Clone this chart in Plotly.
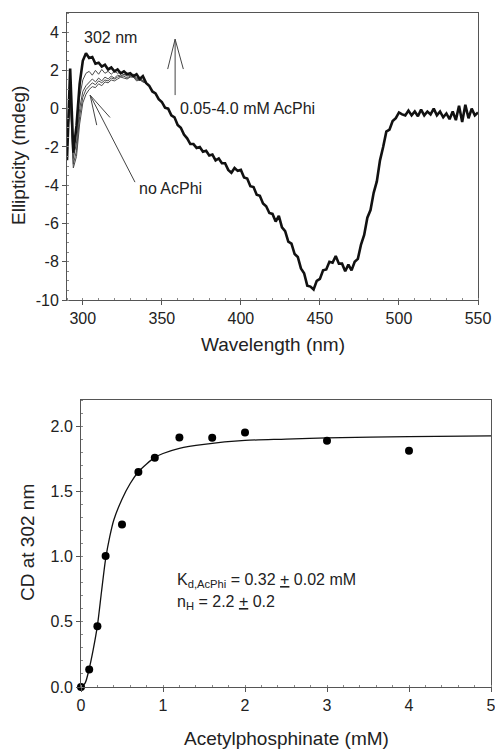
import plotly.graph_objects as go

# ---------------- data: CD spectra (top panel) ----------------
wavelength = list(range(290, 552, 2))
cd_high = [
    -2.7, 2.1, -2.3, -0.9, 1.3, 2.5, 2.9, 2.65, 2.7, 2.35,          # 290-308
    2.4, 2.2, 2.3, 2.05, 2.15, 1.95, 2.05, 1.85, 1.95, 1.8,         # 310-328
    1.85, 1.7, 1.8, 1.55, 1.7, 1.35, 1.2, 0.9, 0.8, 0.5,            # 330-348
    0.35, 0.05, 0.0, -0.35, -0.45, -0.85, -1.0, -1.35, -1.55, -1.85,  # 350-368
    -1.85, -2.05, -2.0, -2.25, -2.2, -2.45, -2.4, -2.7, -2.6, -2.85,  # 370-388
    -2.85, -3.2, -3.35, -3.1, -3.25, -3.2, -3.6, -3.65, -4.05, -4.1,  # 390-408
    -4.5, -4.55, -4.95, -5.1, -5.45, -5.5, -5.9, -5.6, -6.2, -6.4,    # 410-428
    -6.95, -7.05, -7.6, -7.75, -8.35, -8.6, -9.25, -9.3, -9.45, -9.0,  # 430-448
    -8.9, -8.45, -8.4, -8.0, -8.05, -7.7, -8.1, -8.1, -8.5, -8.15,    # 450-468
    -8.45, -8.0, -7.85, -7.1, -6.6, -5.7, -5.3, -4.4, -3.8, -2.7,     # 470-488
    -2.0, -1.2, -1.1, -0.65, -0.5, -0.2, -0.3, -0.35, -0.1, -0.35,    # 490-508
    -0.15, -0.4, -0.05, -0.35, -0.15, -0.3, 0.0, -0.35, -0.15, -0.45,  # 510-528
    -0.25, -0.55, -0.15, -0.6, 0.15, -0.7, 0.2, -0.5, 0.0, -0.35,     # 530-548
    -0.2,                                                             # 550
]

wavelength_low = list(range(290, 342, 2))
cd_a = [-2.5, 1.6, -2.2, -1.2, 0.6, 1.5, 1.85, 1.95, 1.75, 2.0, 1.8, 2.05, 1.85,
        1.95, 1.8, 1.95, 1.85, 1.9, 1.75, 1.85, 1.7, 1.8, 1.6, 1.6, 1.45, 1.35]
cd_b = [-2.4, 1.2, -2.6, -1.8, 0.0, 0.9, 1.2, 1.35, 1.55, 1.4, 1.6, 1.45, 1.65,
        1.55, 1.7, 1.6, 1.75, 1.7, 1.8, 1.7, 1.75, 1.75, 1.55, 1.6, 1.45, 1.35]
cd_c = [-2.2, 0.9, -2.9, -2.2, -0.4, 0.6, 1.0, 1.2, 1.35, 1.25, 1.45, 1.35, 1.5,
        1.45, 1.6, 1.55, 1.65, 1.7, 1.7, 1.6, 1.7, 1.7, 1.5, 1.55, 1.4, 1.35]
cd_none = [-2.0, 0.5, -3.1, -2.5, -0.8, 0.3, 0.75, 1.0, 1.15, 1.1, 1.3, 1.2, 1.4,
           1.35, 1.5, 1.45, 1.55, 1.65, 1.6, 1.55, 1.65, 1.65, 1.45, 1.5, 1.4, 1.35]

# ---------------- data: titration (bottom panel) ----------------
acphi_mM = [0, 0.1, 0.2, 0.3, 0.5, 0.7, 0.9, 1.2, 1.6, 2.0, 3.0, 4.0]
cd_302 = [0.0, 0.135, 0.465, 1.005, 1.245, 1.648, 1.758, 1.913, 1.91, 1.951, 1.888, 1.811]

fit_x = [0, 0.05, 0.1, 0.15, 0.2, 0.25, 0.3, 0.35, 0.4, 0.5, 0.6, 0.7, 0.8, 0.9,
         1.0, 1.2, 1.5, 2.0, 2.5, 3.0, 4.0, 5.0]
fit_y = [0, 0.03, 0.14, 0.29, 0.47, 0.73, 0.98, 1.15, 1.28, 1.44, 1.56, 1.65, 1.71,
         1.76, 1.79, 1.83, 1.86, 1.89, 1.90, 1.91, 1.92, 1.925]

top_xticks = [300, 350, 400, 450, 500, 550]
top_yticks = [4, 2, 0, -2, -4, -6, -8, -10]
top_yticklabels = ["4", "2", "0", "-2", "-4", "-6", "-8", "-10"]
bot_xticks = [0, 1, 2, 3, 4, 5]
bot_yticks = [0.0, 0.5, 1.0, 1.5, 2.0]
bot_yticklabels = ["0.0", "0.5", "1.0", "1.5", "2.0"]

FONT = "Liberation Sans, Arial, sans-serif"
TXT = "#222222"
AX = "#555555"

fig = go.Figure()

for ys in (cd_a, cd_b, cd_c, cd_none):
    fig.add_trace(go.Scatter(x=wavelength_low, y=ys, mode="lines",
                             line=dict(color="#4a4a4a", width=1.0),
                             xaxis="x", yaxis="y", showlegend=False, hoverinfo="skip"))
fig.add_trace(go.Scatter(x=wavelength, y=cd_high, mode="lines",
                         line=dict(color="#111111", width=2.6),
                         xaxis="x", yaxis="y", showlegend=False))

fig.add_trace(go.Scatter(x=fit_x, y=fit_y, mode="lines",
                         line=dict(color="#111111", width=1.3, shape="spline", smoothing=0.8),
                         xaxis="x2", yaxis="y2", showlegend=False))
fig.add_trace(go.Scatter(x=acphi_mM, y=cd_302, mode="markers",
                         marker=dict(color="#000000", size=8),
                         cliponaxis=False,
                         xaxis="x2", yaxis="y2", showlegend=False))

axis_common = dict(showline=True, linecolor=AX, linewidth=1, mirror=True, automargin=False,
                   ticks="outside", ticklen=4, tickcolor=AX, showgrid=False,
                   zeroline=False, ticklabeloverflow="allow",
                   tickfont=dict(family=FONT, size=16, color=TXT),
                   minor=dict(ticks="inside", ticklen=2, tickcolor="#888888", showgrid=False))

fig.update_layout(
    width=495, height=752,
    margin=dict(l=0, r=0, t=0, b=0, pad=0, autoexpand=False),
    paper_bgcolor="white", plot_bgcolor="white",
    font=dict(family=FONT, color=TXT),
    xaxis=dict(domain=[67 / 495, 478 / 495], range=[290, 550], anchor="y",
               tickvals=top_xticks, minor_dtick=10, **axis_common),
    yaxis=dict(domain=[1 - 300 / 752, 1 - 13 / 752], range=[-10, 5], anchor="x",
               tickvals=top_yticks, ticktext=top_yticklabels, minor_dtick=0.5, **axis_common),
    xaxis2=dict(domain=[81 / 495, 491 / 495], range=[0, 5], anchor="y2",
                tickvals=bot_xticks, minor_dtick=0.2, **axis_common),
    yaxis2=dict(domain=[1 - 687 / 752, 1 - 400 / 752], range=[0, 2.2], anchor="x2",
                tickvals=bot_yticks, ticktext=bot_yticklabels, minor_dtick=0.1, **axis_common),
)

# axis titles
title_font = dict(family=FONT, size=19, color=TXT)
fig.add_annotation(text="Wavelength (nm)", xref="paper", yref="paper",
                   x=(67 + 478) / 2 / 495, y=1 - 345 / 752, xanchor="center", yanchor="middle",
                   showarrow=False, font=title_font)
fig.add_annotation(text="Ellipticity (mdeg)", xref="paper", yref="paper",
                   x=19 / 495, y=1 - 156 / 752, xanchor="center", yanchor="middle",
                   showarrow=False, textangle=-90, font=title_font)
fig.add_annotation(text="Acetylphosphinate (mM)", xref="paper", yref="paper",
                   x=(81 + 491) / 2 / 495, y=1 - 738 / 752, xanchor="center", yanchor="middle",
                   showarrow=False, font=title_font)
fig.add_annotation(text="CD at 302 nm", xref="paper", yref="paper",
                   x=27 / 495, y=1 - 543 / 752, xanchor="center", yanchor="middle",
                   showarrow=False, textangle=-90, font=title_font)

# in-plot labels (top)
label_font = dict(family=FONT, size=16, color=TXT)
fig.add_annotation(text="302 nm", xref="x", yref="y", x=299.5, y=3.74,
                   xanchor="left", yanchor="middle", showarrow=False, font=label_font)
fig.add_annotation(text="0.05-4.0 mM AcPhi", xref="x", yref="y", x=360.3, y=0.03,
                   xanchor="left", yanchor="middle", showarrow=False, font=label_font)
fig.add_annotation(text="no AcPhi", xref="x", yref="y", x=334.1, y=-4.15,
                   xanchor="left", yanchor="middle", showarrow=False, font=label_font)

# open arrows drawn as line shapes
arrow_lines = [
    (358.4, 0.71, 358.4, 3.63), (358.4, 3.63, 353.7, 2.07), (358.4, 3.63, 363.6, 2.07),
    (333.0, -3.84, 304.6, 0.71), (304.6, 0.71, 308.8, -0.86), (304.6, 0.71, 317.2, -0.46),
]
for x0, y0, x1, y1 in arrow_lines:
    fig.add_shape(type="line", xref="x", yref="y", x0=x0, y0=y0, x1=x1, y1=y1,
                  line=dict(color="#444444", width=1))

# fit parameters (bottom)
fig.add_annotation(text="K<sub>d,AcPhi</sub> = 0.32 <u>+</u> 0.02 mM", xref="x2", yref="y2",
                   x=1.146, y=0.82, xanchor="left", yanchor="middle", showarrow=False,
                   font=label_font)
fig.add_annotation(text="n<sub>H</sub> = 2.2 <u>+</u> 0.2", xref="x2", yref="y2",
                   x=1.146, y=0.645, xanchor="left", yanchor="middle", showarrow=False,
                   font=label_font)

fig.write_html("out.html", config={"displayModeBar": False},
               post_script="document.body.style.margin='0';document.body.style.padding='0';")
